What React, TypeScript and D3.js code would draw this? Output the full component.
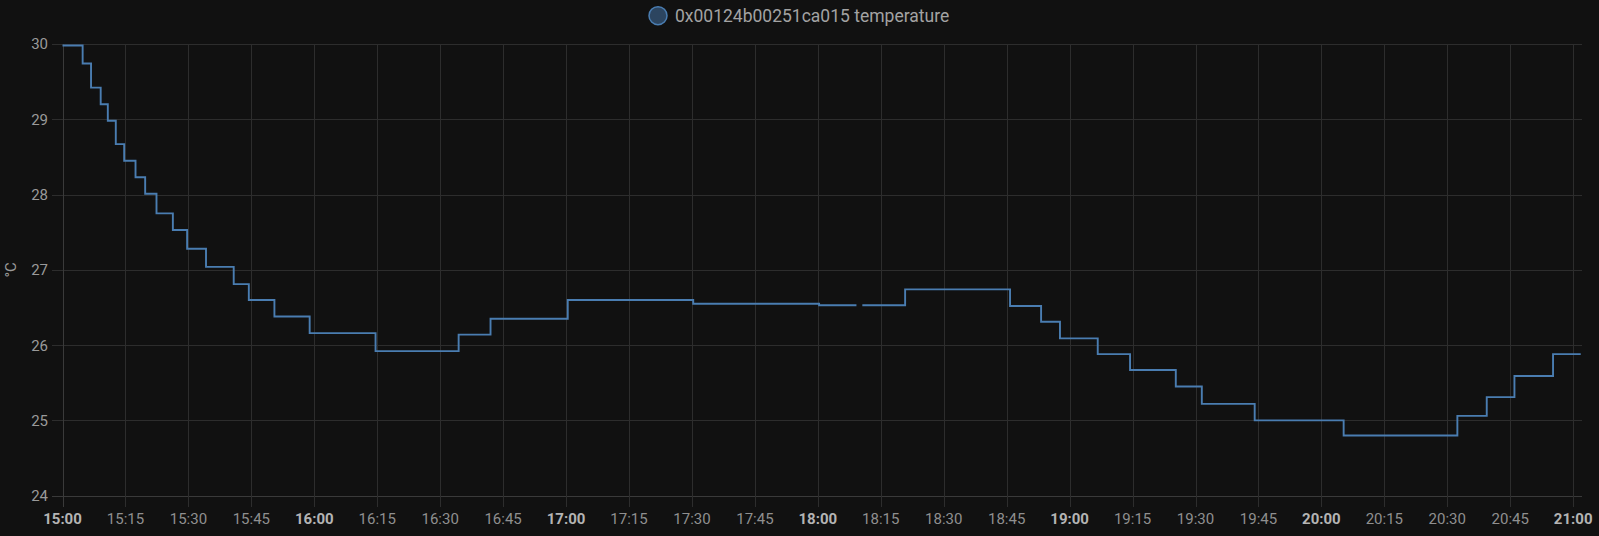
import React, { useEffect } from "react";
import * as d3 from "d3";

const seriesName = "0x00124b00251ca015 temperature";
const yAxisTitle = "°C";

// time of each state change (local time) and the reported temperature; null = no data
const times: string[] = [
  "15:00:00", "15:04:48", "15:06:48", "15:09:06", "15:10:48", "15:12:42", "15:14:42",
  "15:17:24", "15:19:42", "15:22:24", "15:26:18", "15:29:42", "15:34:12", "15:40:48",
  "15:44:24", "15:50:30", "15:58:54", "16:14:36", "16:34:24", "16:42:00", "17:00:24",
  "17:30:18", "18:00:18", "18:09:12", "18:09:54", "18:10:36", "18:20:48", "18:45:48",
  "18:53:12", "18:57:42", "19:06:42", "19:14:24", "19:25:18", "19:31:30", "19:44:06",
  "20:05:18", "20:32:24", "20:39:24", "20:46:00", "20:55:12", "21:01:48",
];
const temps: (number | null)[] = [
  29.98, 29.74, 29.42, 29.2, 28.98, 28.67, 28.45,
  28.23, 28.01, 27.75, 27.53, 27.28, 27.04, 26.81,
  26.6, 26.38, 26.16, 25.92, 26.14, 26.35, 26.6,
  26.55, 26.53, 26.53, null, 26.53, 26.74, 26.52,
  26.31, 26.09, 25.88, 25.67, 25.45, 25.22, 25.0,
  24.8, 25.06, 25.31, 25.59, 25.88, 25.88,
];
const yTicks = [24, 25, 26, 27, 28, 29, 30];
const xStart = "15:00:00";
const xEnd = "21:02:06";

const W = 1599;
const H = 536;
const BG = "#111111";
const LINE = "#4a7db1";
const GRID = "#2d2d2d";
const AXIS = "#3a3a3a";
const FONT = "Roboto, 'Noto Sans', sans-serif";

function toDate(t: string): Date {
  const [h, m, s] = t.split(":").map(Number);
  return new Date(2024, 0, 15, h, m, s);
}

export default function App() {
  useEffect(() => {
    document.body.style.margin = "0";
    document.body.style.background = BG;
    document.body.style.overflow = "hidden";
  }, []);

  const left = 62.5;
  const right = 1582;
  const top = 44;
  const bottom = 495.7;

  const x = d3.scaleTime().domain([toDate(xStart), toDate(xEnd)]).range([left, right]);
  const y = d3.scaleLinear().domain([24, 30]).range([bottom, top]);

  const data = times.map((t, i) => ({ t: toDate(t), v: temps[i] }));
  const line = d3
    .line<{ t: Date; v: number | null }>()
    .defined((d) => d.v !== null)
    .x((d) => x(d.t))
    .y((d) => y(d.v as number))
    .curve(d3.curveStepAfter);

  const xTicks = d3.timeMinute.every(15)!.range(toDate(xStart), new Date(+toDate(xEnd) + 1));
  const fmt = d3.timeFormat("%H:%M");

  return (
    <svg width={W} height={H} style={{ position: "absolute", left: 0, top: 0, display: "block" }}>
      <rect x={0} y={0} width={W} height={H} fill={BG} />
      {/* horizontal grid */}
      {yTicks.map((t) => (
        <line key={"hy" + t} x1={52} x2={right} y1={Math.round(y(t)) + 0.5} y2={Math.round(y(t)) + 0.5}
          stroke={t === 24 ? AXIS : GRID} strokeWidth={1} />
      ))}
      {/* vertical grid */}
      {xTicks.map((d, i) => (
        <line key={"vx" + i} x1={Math.round(x(d)) + 0.5} x2={Math.round(x(d)) + 0.5} y1={top} y2={507}
          stroke={i === 0 ? AXIS : GRID} strokeWidth={1} />
      ))}
      {/* y tick labels */}
      {yTicks.map((t) => (
        <text key={"ly" + t} x={48} y={y(t)} dy="0.36em" textAnchor="end" fontFamily={FONT}
          fontSize={15} fill="#9a9a9a">{t}</text>
      ))}
      {/* x tick labels */}
      {xTicks.map((d, i) => {
        const major = d.getMinutes() === 0;
        return (
          <text key={"lx" + i} x={x(d)} y={524} textAnchor="middle" fontFamily={FONT} fontSize={15}
            fontWeight={major ? 700 : 400} fill={major ? "#b4b4b4" : "#8f8f8f"}>{fmt(d)}</text>
        );
      })}
      {/* y axis title */}
      <text transform={`translate(16,${(top + bottom) / 2}) rotate(-90)`} textAnchor="middle"
        fontFamily={FONT} fontSize={15} fill="#9a9a9a">{yAxisTitle}</text>
      {/* series */}
      <path d={line(data) || ""} fill="none" stroke={LINE} strokeWidth={1.9} />
      {/* legend */}
      <circle cx={658} cy={15.7} r={9} fill="#2c4560" stroke={LINE} strokeWidth={1.5} />
      <text x={675} y={15.7} dy="0.36em" fontFamily={FONT} fontSize={17.5} fill="#a3a3a3">{seriesName}</text>
    </svg>
  );
}
